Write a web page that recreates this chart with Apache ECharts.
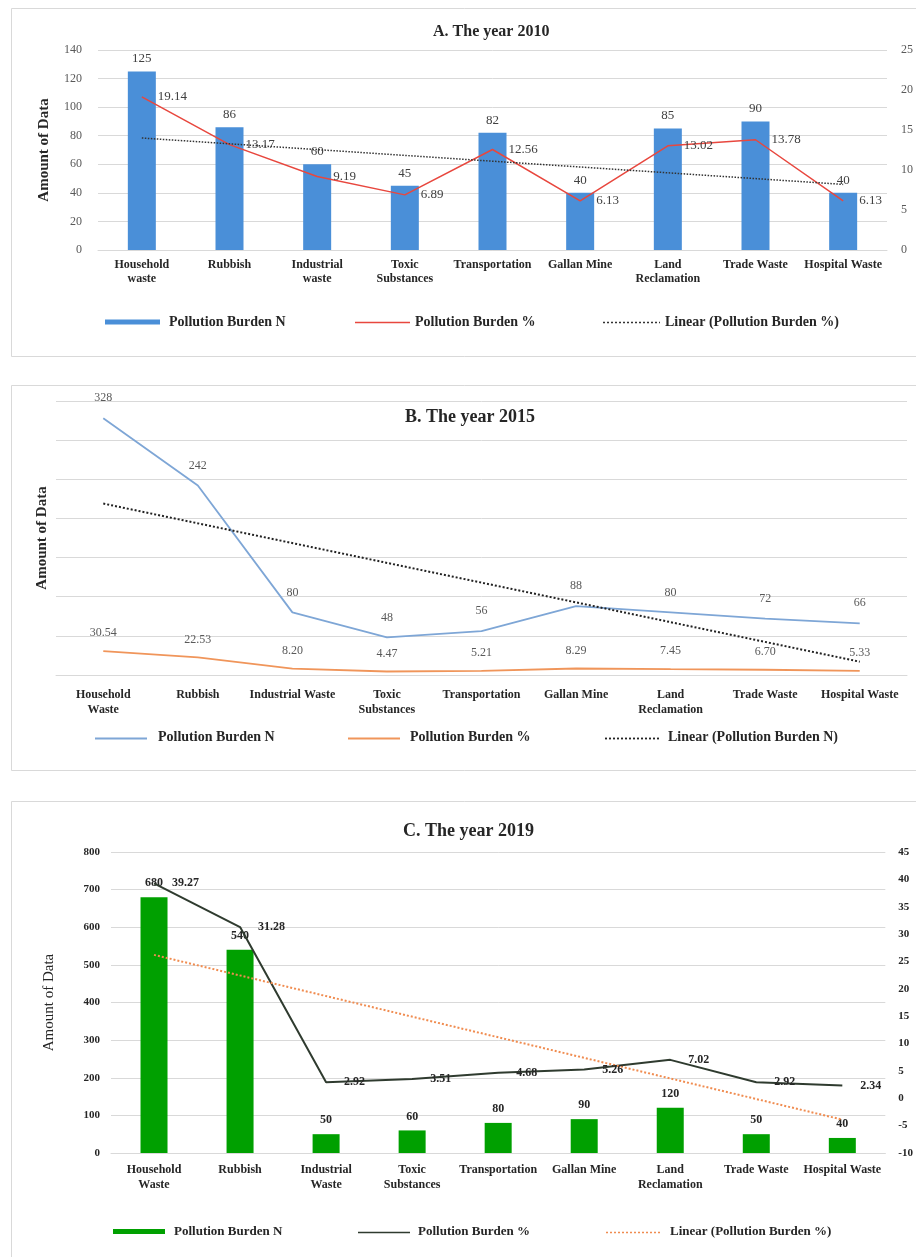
<!DOCTYPE html>
<html><head><meta charset="utf-8">
<script src="https://cdn.jsdelivr.net/npm/echarts@6/dist/echarts.min.js"></script>
<style>html,body{margin:0;padding:0;background:#fff}#c{width:916px;height:1257px}</style>
</head><body><div id="c"></div>
<script>
// ---- Panel A: 2010 ----
const catsA = ['Household\nwaste','Rubbish','Industrial\nwaste','Toxic\nSubstances','Transportation','Gallan Mine','Land\nReclamation','Trade Waste','Hospital Waste'];
const nA = [125, 86, 60, 45, 82, 40, 85, 90, 40];
const pctA = [19.14, 13.17, 9.19, 6.89, 12.56, 6.13, 13.02, 13.78, 6.13];
const trendA = [14.0, null, null, null, null, null, null, null, 8.2];
// ---- Panel B: 2015 ----
const catsB = ['Household\nWaste','Rubbish','Industrial Waste','Toxic\nSubstances','Transportation','Gallan Mine','Land\nReclamation','Trade Waste','Hospital Waste'];
const nB = [328, 242, 80, 48, 56, 88, 80, 72, 66];
const pctB = [30.54, 22.53, 8.20, 4.47, 5.21, 8.29, 7.45, 6.70, 5.33];
const trendB = [219, null, null, null, null, null, null, null, 17];
// ---- Panel C: 2019 ----
const catsC = ['Household\nWaste','Rubbish','Industrial\nWaste','Toxic\nSubstances','Transportation','Gallan Mine','Land\nReclamation','Trade Waste','Hospital Waste'];
const nC = [680, 540, 50, 60, 80, 90, 120, 50, 40];
const pctC = [39.27, 31.28, 2.92, 3.51, 4.68, 5.26, 7.02, 2.92, 2.34];
const trendC = [26.2, null, null, null, null, null, null, null, -3.9];

const titles = ['A. The year 2010', 'B. The year 2015', 'C. The year 2019'];
const legA = ['Pollution Burden N', 'Pollution Burden %', 'Linear (Pollution Burden %)'];
const legB = ['Pollution Burden N', 'Pollution Burden %', 'Linear (Pollution Burden N)'];
const legC = ['Pollution Burden N', 'Pollution Burden %', 'Linear (Pollution Burden %)'];
const yName = 'Amount of Data';

const F = 'Liberation Serif';
const GRID = '#d9d9d9';
const C_A_BAR = '#4a8fd8', C_A_LINE = '#e8473e', C_A_TREND = '#333';
const C_B_N = '#7ea6d6', C_B_P = '#f0955a', C_B_TREND = '#222';
const C_C_BAR = '#00a000', C_C_LINE = '#2f3b2f', C_C_TREND = '#f08c50';

function txt(size, weight) {
  return { fontFamily: F, fontWeight: weight || 'bold', fontSize: size || 14, color: '#262626', padding: [0, 0, 0, 4] };
}
// legend for a bar series: thick rectangle icon
function legBar(name, left, top, color, w, size) {
  return {
    data: [{ name: name, icon: 'rect', itemStyle: { color: color, borderWidth: 0 } }],
    left: left, top: top, padding: 0, itemWidth: w, itemHeight: 5, selectedMode: false,
    textStyle: txt(size)
  };
}
// legend for a line series: text only, its line sample is drawn as a graphic
function legLine(name, left, top, size) {
  return {
    data: [{ name: name, icon: 'rect', itemStyle: { color: 'transparent', borderWidth: 0 } }],
    left: left, top: top, padding: 0, itemWidth: 0, itemHeight: 0, selectedMode: false,
    textStyle: txt(size)
  };
}
function sample(x1, x2, y, color, width, dash) {
  return { type: 'line', silent: true, shape: { x1: x1, y1: y, x2: x2, y2: y },
    style: { stroke: color, lineWidth: width, lineDash: dash || null } };
}
function xAx(gi, cats, margin, lh) {
  return {
    type: 'category', gridIndex: gi, data: cats,
    axisTick: { show: false }, axisLine: { lineStyle: { color: GRID } },
    axisLabel: { interval: 0, fontFamily: F, fontWeight: 'bold', fontSize: 12, color: '#262626', margin: margin, lineHeight: lh }
  };
}
const pctFmt = p => p.value.toFixed(2);

const option = {
  animation: false,
  backgroundColor: '#fff',
  graphic: [
    { type: 'rect', shape: { x: 11.5, y: 8.5, width: 930, height: 348 }, style: { fill: 'none', stroke: GRID, lineWidth: 1 } },
    { type: 'rect', shape: { x: 11.5, y: 385.5, width: 930, height: 385 }, style: { fill: 'none', stroke: GRID, lineWidth: 1 } },
    { type: 'rect', shape: { x: 11.5, y: 801.5, width: 930, height: 480 }, style: { fill: 'none', stroke: GRID, lineWidth: 1 } },
    sample(355, 410, 322.5, C_A_LINE, 1.5),
    sample(603, 660, 322.5, C_A_TREND, 1.5, [2, 2]),
    sample(95, 147, 738.5, C_B_N, 1.8),
    sample(348, 400, 738.5, C_B_P, 1.8),
    sample(605, 660, 738.5, C_B_TREND, 1.8, [2, 2]),
    sample(358, 410, 1232.5, C_C_LINE, 1.5),
    sample(606, 660, 1232.5, C_C_TREND, 1.5, [2, 2])
  ],
  title: [
    { text: titles[0], left: 428, top: 19, textStyle: { fontFamily: F, fontWeight: 'bold', fontSize: 16, color: '#262626' } },
    { text: titles[1], left: 400, top: 403, textStyle: { fontFamily: F, fontWeight: 'bold', fontSize: 18, color: '#262626' } },
    { text: titles[2], left: 398, top: 817, textStyle: { fontFamily: F, fontWeight: 'bold', fontSize: 18, color: '#262626' } }
  ],
  legend: [
    legBar(legA[0], 105, 315, C_A_BAR, 55),
    legLine(legA[1], 406, 315),
    legLine(legA[2], 656, 315),
    legLine(legB[0], 149, 730),
    legLine(legB[1], 401, 730),
    legLine(legB[2], 659, 730),
    legBar(legC[0], 113, 1225, C_C_BAR, 52, 13),
    legLine(legC[1], 409, 1225, 13),
    legLine(legC[2], 661, 1225, 13)
  ],
  grid: [
    { left: 98, top: 50, width: 792, height: 200 },
    { left: 56, top: 401, width: 851, height: 274 },
    { left: 111, top: 852, width: 781, height: 301 }
  ],
  xAxis: [xAx(0, catsA, 8, 14), xAx(1, catsB, 12, 15), xAx(2, catsC, 9, 15)],
  yAxis: [
    { type: 'value', gridIndex: 0, min: 0, max: 140, interval: 20,
      splitLine: { lineStyle: { color: GRID } },
      axisLabel: { fontFamily: F, fontSize: 12, color: '#595959', margin: 16 },
      name: yName, nameLocation: 'middle', nameGap: 46,
      nameTextStyle: { fontFamily: F, fontWeight: 'bold', fontSize: 15, color: '#262626' } },
    { type: 'value', gridIndex: 0, position: 'right', min: 0, max: 25, interval: 5,
      splitLine: { show: false },
      axisLabel: { fontFamily: F, fontSize: 12, color: '#595959', margin: 14 } },
    { type: 'value', gridIndex: 1, min: 0, max: 350, interval: 50,
      splitLine: { lineStyle: { color: GRID } },
      axisLabel: { show: false },
      name: yName, nameLocation: 'middle', nameGap: 6,
      nameTextStyle: { fontFamily: F, fontWeight: 'bold', fontSize: 15, color: '#262626' } },
    { type: 'value', gridIndex: 2, min: 0, max: 800, interval: 100,
      splitLine: { lineStyle: { color: GRID } },
      axisLabel: { fontFamily: F, fontWeight: 'bold', fontSize: 11, color: '#262626', margin: 11 },
      name: yName, nameLocation: 'middle', nameGap: 54,
      nameTextStyle: { fontFamily: F, fontSize: 15, color: '#262626' } },
    { type: 'value', gridIndex: 2, position: 'right', min: -10, max: 45, interval: 5,
      splitLine: { show: false },
      axisLabel: { fontFamily: F, fontWeight: 'bold', fontSize: 11, color: '#262626', margin: 13 } }
  ],
  series: [
    { type: 'bar', name: legA[0], xAxisIndex: 0, yAxisIndex: 0, data: nA, barWidth: 28,
      itemStyle: { color: C_A_BAR },
      label: { show: true, position: 'top', distance: 6, fontFamily: F, fontSize: 13, color: '#404040' } },
    { type: 'line', name: legA[1], xAxisIndex: 0, yAxisIndex: 1, data: pctA, symbol: 'circle', symbolSize: 0,
      lineStyle: { color: C_A_LINE, width: 1.5 }, itemStyle: { color: C_A_LINE },
      label: { show: true, position: 'right', distance: 16, formatter: pctFmt, fontFamily: F, fontSize: 13, color: '#404040' } },
    { type: 'line', name: legA[2], xAxisIndex: 0, yAxisIndex: 1, data: trendA, symbol: 'none', connectNulls: true, silent: true,
      lineStyle: { color: C_A_TREND, width: 1.5, type: 'dotted' } },

    { type: 'line', name: legB[0], xAxisIndex: 1, yAxisIndex: 2, data: nB, symbol: 'circle', symbolSize: 0,
      lineStyle: { color: C_B_N, width: 1.8 }, itemStyle: { color: C_B_N },
      label: { show: true, position: 'top', distance: 14, fontFamily: F, fontSize: 12, color: '#595959' } },
    { type: 'line', name: legB[1], xAxisIndex: 1, yAxisIndex: 2, data: pctB, symbol: 'circle', symbolSize: 0,
      lineStyle: { color: C_B_P, width: 1.8 }, itemStyle: { color: C_B_P },
      label: { show: true, position: 'top', distance: 12, formatter: pctFmt, fontFamily: F, fontSize: 12, color: '#595959' } },
    { type: 'line', name: legB[2], xAxisIndex: 1, yAxisIndex: 2, data: trendB, symbol: 'none', connectNulls: true, silent: true,
      lineStyle: { color: C_B_TREND, width: 2, type: 'dotted' } },

    { type: 'bar', name: legC[0], xAxisIndex: 2, yAxisIndex: 3, data: nC, barWidth: 27,
      itemStyle: { color: C_C_BAR },
      label: { show: true, position: 'top', distance: 8, fontFamily: F, fontWeight: 'bold', fontSize: 12, color: '#262626' } },
    { type: 'line', name: legC[1], xAxisIndex: 2, yAxisIndex: 4, data: pctC, symbol: 'circle', symbolSize: 0,
      lineStyle: { color: C_C_LINE, width: 2 }, itemStyle: { color: C_C_LINE },
      label: { show: true, position: 'right', distance: 18, formatter: pctFmt, fontFamily: F, fontWeight: 'bold', fontSize: 12, color: '#262626' } },
    { type: 'line', name: legC[2], xAxisIndex: 2, yAxisIndex: 4, data: trendC, symbol: 'none', connectNulls: true, silent: true,
      lineStyle: { color: C_C_TREND, width: 2, type: 'dotted' } }
  ]
};
const chart = echarts.init(document.getElementById('c'), null, { renderer: 'canvas' });
chart.setOption(option);
</script>
</body></html>
